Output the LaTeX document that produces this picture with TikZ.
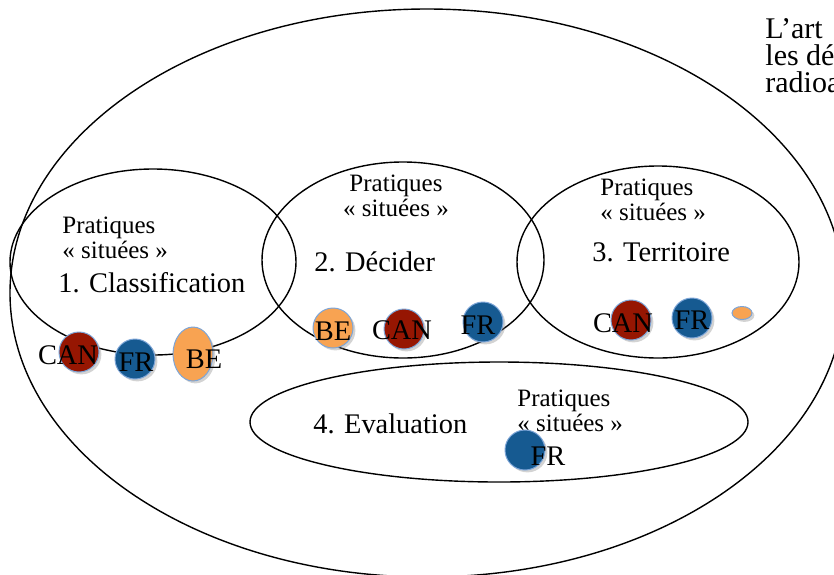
\documentclass[tikz,border=0pt]{standalone}
\usepackage{fontspec}
\setmainfont{Liberation Serif}
\usetikzlibrary{shapes.geometric,shadows}
\definecolor{canred}{RGB}{150,22,2}
\definecolor{frblue}{RGB}{22,90,145}
\definecolor{beorange}{RGB}{248,163,82}
\definecolor{rim}{RGB}{125,165,215}
\tikzset{Pzone/.style={ellipse,draw,line width=0.7pt,inner sep=0pt},
         Ppays/.style={circle,draw=rim,line width=0.5pt,inner sep=0pt,minimum size=20pt,
                       drop shadow={shadow xshift=1.2pt,shadow yshift=-1.2pt,opacity=0.35}},
         Pcan/.style={fill=canred},
         Pfr/.style={fill=frblue},
         Pbe/.style={fill=beorange},
         Pnom/.style={inner sep=0pt,font=\fontsize{14.2}{17}\selectfont},
         Plab/.style={inner sep=0pt,anchor=west,font=\fontsize{14.2}{17}\selectfont},
         Pprat/.style={inner sep=0pt,align=left,font=\fontsize{12.5}{12.5}\selectfont}}

\begin{document}
\begin{tikzpicture}[x=0.5pt,y=-0.5pt]
    \useasboundingbox (0,0) rectangle (834,574);
    % zones
    \node[Pzone,minimum width=417pt,minimum height=284pt] (tout) at (427,293) {};
    \foreach \x/\y/\w/\h/\n in {153/262/143/93/z1,403/260/141/98/z2,658/262/141/96/z3,499/422/249/60/z4}
      {\node[Pzone,minimum width=\w pt,minimum height=\h pt] (\n) at (\x,\y) {};}
    % titres
    \node[Plab] (t1) at (58,283) {1. Classification};
    \node[Plab] (t2) at (314,262) {2. Décider};
    \node[Plab] (t3) at (592,252) {3. Territoire};
    \node[Plab] (t4) at (313,424) {4. Evaluation};
    \node[Pprat,anchor=west] (p1) at (62,238) {Pratiques\\« situées »};
    \node[Pprat,align=center] (p2) at (396,196) {Pratiques\\« situées »};
    \node[Pprat,anchor=west] (p3) at (600,200) {Pratiques\\« situées »};
    \node[Pprat,anchor=west] (p4) at (517,411) {Pratiques\\« situées »};
    \foreach \y/\t/\n in {38/L’art/art1,65/les dé/art2,92/radioa/art3}
      {\node[Plab,anchor=base west,font=\fontsize{15}{15}\selectfont] (\n) at (765,\y) {\t};}
    % pays
    \node[Ppays,Pbe,ellipse,minimum width=20pt,minimum height=27pt] (be1) at (193,354) {};
    \node[Ppays,Pbe,ellipse,minimum width=10pt,minimum height=6.5pt] (be3) at (742,313) {};
    \foreach \x/\y/\s/\n/\tx/\ty/\t in {79/352/Pcan/can1/68/355/CAN,135/359/Pfr/fr1/136/362/FR,
        333/328/Pbe/be2/333/331/BE,404/329/Pcan/can2/402/330/CAN,483/322/Pfr/fr2/478/325/FR,
        631/320/Pcan/can3/623/323/CAN,692/318/Pfr/fr3/692/320/FR,525/450/Pfr/fr4/548/456/FR}
      {\node[Ppays,\s] (\n) at (\x,\y) {}; \node[Pnom] (\n-t) at (\tx,\ty) {\t};}
    \node[Pnom] (be1-t) at (204,359) {BE};
\end{tikzpicture}
\end{document}
